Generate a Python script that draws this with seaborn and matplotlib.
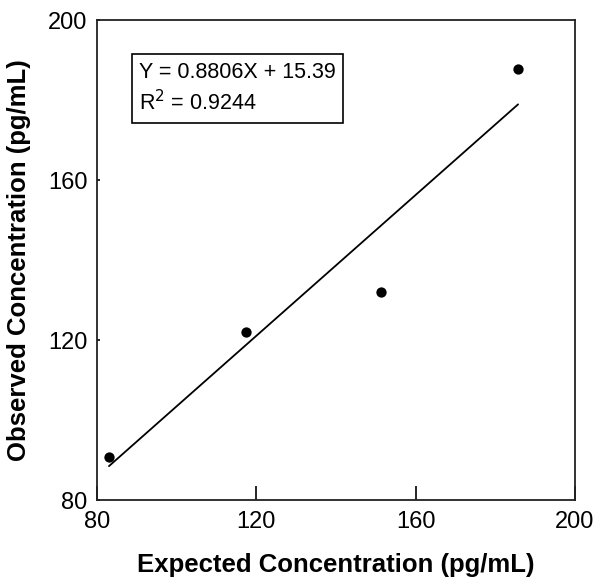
import matplotlib
matplotlib.use("Agg")
import matplotlib.pyplot as plt
import numpy as np
import pandas as pd
import seaborn as sns

sns.set_style("ticks", {"xtick.direction": "in", "ytick.direction": "in",
                        "axes.edgecolor": "black", "text.color": "black",
                        "axes.labelcolor": "black", "xtick.color": "black",
                        "ytick.color": "black"})
plt.rcParams['font.family'] = ['Liberation Sans', 'DejaVu Sans']

# data
expected = [83.0, 117.4, 151.3, 185.7]
observed = [90.8, 122.0, 132.0, 187.8]
slope = 0.8806
intercept = 15.39
r_squared = 0.9244

df = pd.DataFrame({"Expected": expected, "Observed": observed})
fit_x = np.array([min(expected), max(expected)])
fit_df = pd.DataFrame({"Expected": fit_x, "Observed": slope * fit_x + intercept})

fig = plt.figure(figsize=(5.99, 5.79), dpi=100)
ax = fig.add_axes([0.162, 0.1364, 0.798, 0.829])

sns.lineplot(data=fit_df, x="Expected", y="Observed", color="black", linewidth=1.3, ax=ax)
sns.scatterplot(data=df, x="Expected", y="Observed", color="black", s=55,
                edgecolor="black", linewidth=0, ax=ax, zorder=3)

ax.set_xlim(80, 200)
ax.set_ylim(80, 200)
ax.set_xticks([80, 120, 160, 200])
ax.set_yticks([80, 120, 160, 200])
# ticks point inward: long on x, short on y
ax.tick_params(axis="x", which="major", direction="in", length=10, width=1.2,
               labelsize=17, pad=8, colors="black")
ax.tick_params(axis="y", which="major", direction="in", length=2.5, width=1.2,
               labelsize=17, pad=7, colors="black")
for side in ax.spines.values():
    side.set_linewidth(1.3)
    side.set_color("#222222")

ax.set_xlabel("Expected Concentration (pg/mL)", fontsize=18.5, fontweight="bold",
              labelpad=14, color="black")
ax.set_ylabel("Observed Concentration (pg/mL)", fontsize=18.5, fontweight="bold",
              labelpad=12, color="black")

ax.text(0.088, 0.913, f"Y = {slope}X + {intercept}\nR$^2$ = {r_squared}",
        transform=ax.transAxes, fontsize=15.5, va="top", ha="left", linespacing=1.35,
        color="black",
        bbox=dict(boxstyle="square,pad=0.35", facecolor="white", edgecolor="black", linewidth=1.2))

plt.savefig("out.png", dpi=100)
plt.close()
